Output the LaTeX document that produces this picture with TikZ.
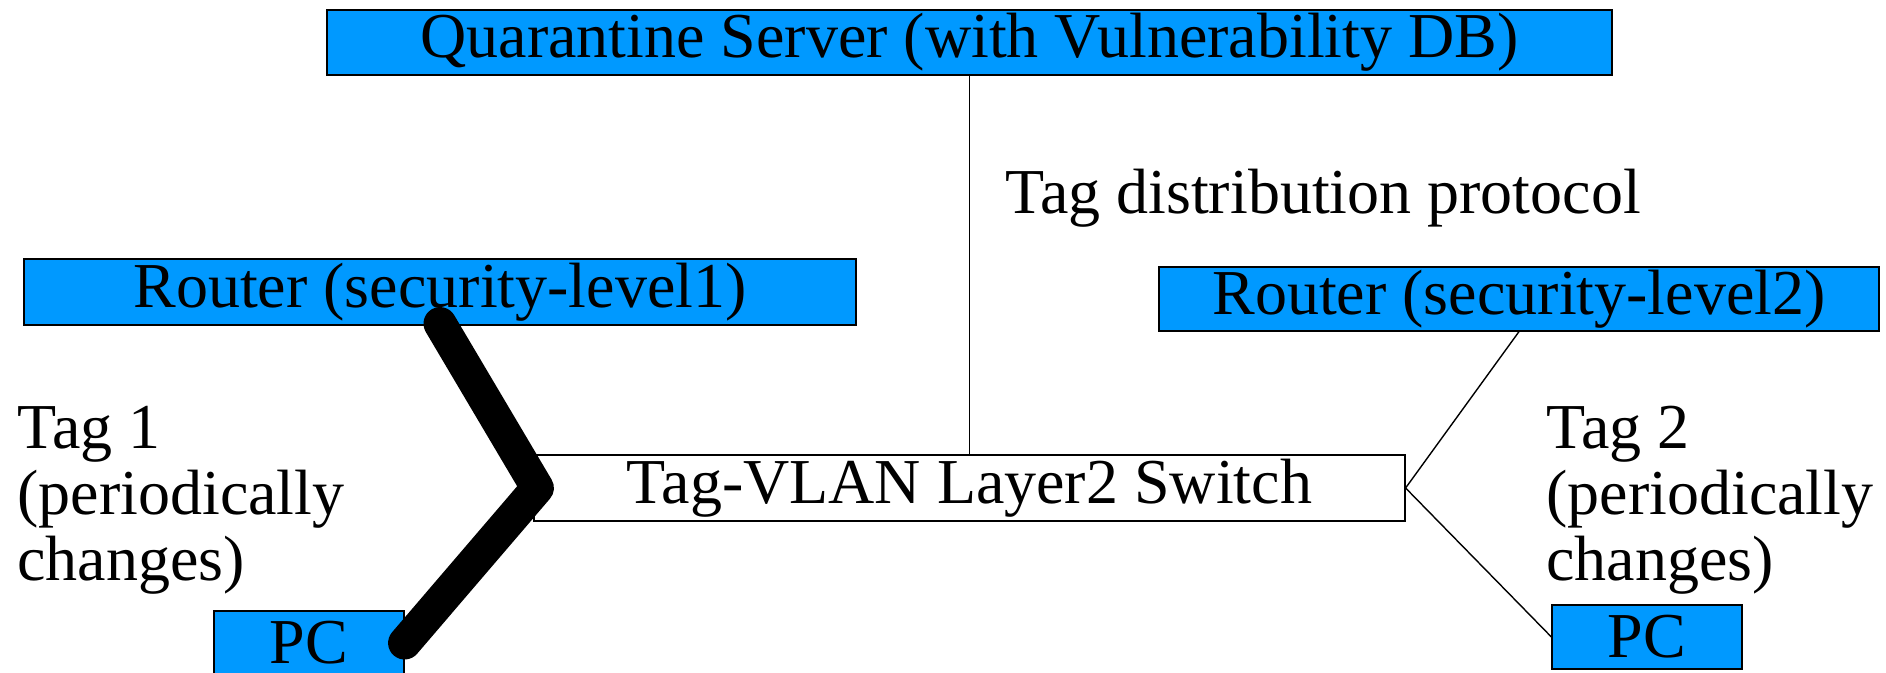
\documentclass[tikz,border=0pt]{standalone}
\usepackage{fontspec}
\setmainfont{Liberation Serif}
\definecolor{boxblue}{RGB}{0,153,255}
\tikzset{
 box/.style={draw=black, line width=0.6pt, fill=boxblue, inner sep=0pt, font=\fontsize{32}{33}\selectfont},
 lbl/.style={inner sep=0pt, font=\fontsize{32}{33}\selectfont, align=left},
 thinline/.style={line width=0.7pt},
 thickline/.style={line width=16.5pt, line cap=round, line join=round}
}
\begin{document}
\begin{tikzpicture}[x=0.5pt,y=-0.5pt]
\useasboundingbox (0,0) rectangle (1886,673);
\node[box, minimum width=642.5pt, minimum height=32.5pt] (qs) at (969.5,42.5) {Quarantine Server (with Vulnerability DB)};
\node[box, minimum width=416pt, minimum height=33pt] (r1) at (440,292) {Router (security-level1)};
\node[box, minimum width=360pt, minimum height=32pt] (r2) at (1519,299) {Router (security-level2)};
\node[box, fill=white, minimum width=435.5pt, minimum height=33pt] (sw) at (969.5,488) {Tag-VLAN Layer2 Switch};
\node[box, minimum width=95pt, minimum height=32pt] (pc1) at (309,643) {PC};
\node[box, minimum width=95pt, minimum height=32pt] (pc2) at (1647,637) {PC};
\draw[thinline] (qs.south) -- (sw.north);
\draw[thinline] (r2.south) -- (sw.east) -- (pc2.west);
\draw[thickline] ([yshift=1pt]r1.south) -- ([xshift=2pt]sw.west) -- (pc1.east);
\node[lbl, anchor=base west] (tdp) at (1005,214) {Tag distribution protocol};
\node[lbl, anchor=west] (t1) at (17,500) {Tag 1\\(periodically\\changes)};
\node[lbl, anchor=west] (t2) at (1546,500) {Tag 2\\(periodically\\changes)};
\end{tikzpicture}
\end{document}
